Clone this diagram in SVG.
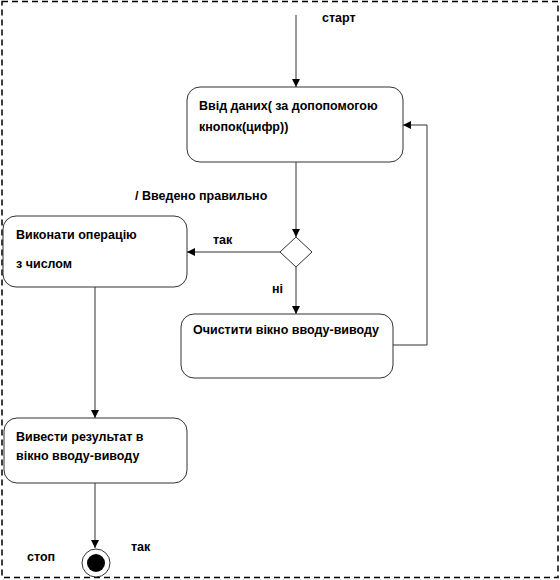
<svg xmlns="http://www.w3.org/2000/svg" width="560" height="580" viewBox="0 0 560 580">
<defs>
<marker id="arr" viewBox="0 0 10 10" refX="10" refY="5" markerWidth="8" markerHeight="8" markerUnits="userSpaceOnUse" orient="auto">
<path d="M0,0 L10,5 L0,10 z" fill="#000"/>
</marker>
<style>
.t{font-family:"Liberation Sans",Arial,sans-serif;font-size:12.5px;font-weight:bold;fill:#000}
.box{fill:#fff;stroke:#333;stroke-width:1}
.c{fill:none;stroke:#333;stroke-width:1;marker-end:url(#arr)}
</style>
</defs>
<rect width="560" height="580" fill="#fff"/>
<rect x="2" y="1.5" width="556" height="576" fill="none" stroke="#000" stroke-width="1.5" stroke-dasharray="6,4"/>
<g id="connectors">
<path class="c" d="M296,15 L296,87"/>
<path class="c" d="M296,162 L296,237"/>
<path class="c" d="M280,252 L187,252"/>
<path class="c" d="M296,267 L296,314"/>
<path class="c" d="M393,345 L427,345 L427,125 L403,125"/>
<path class="c" d="M95,287 L95,418"/>
<path class="c" d="M95,483 L95,548"/>
</g>
<g id="start-label"><text class="t" x="322" y="22">старт</text></g>
<g id="input">
<rect class="box" x="187" y="87" width="216" height="75" rx="13"/>
<text class="t" x="199" y="110">Ввід даних( за допопомогою</text>
<text class="t" x="199" y="131">кнопок(цифр))</text>
</g>
<g id="guard"><text class="t" x="135" y="200">/ Введено правильно</text></g>
<g id="decision">
<path d="M296,237 L312,252 L296,267 L280,252 z" fill="#fff" stroke="#333"/>
</g>
<g id="yes-label"><text class="t" x="213" y="244">так</text></g>
<g id="no-label"><text class="t" x="272" y="293">ні</text></g>
<g id="compute">
<rect class="box" x="3" y="216" width="184" height="71" rx="13"/>
<text class="t" x="16" y="239">Виконати операцію</text>
<text class="t" x="16" y="268">з числом</text>
</g>
<g id="clear">
<rect class="box" x="181" y="314" width="212" height="64" rx="13"/>
<text class="t" x="193" y="334">Очистити вікно вводу-виводу</text>
</g>
<g id="output">
<rect class="box" x="4" y="418" width="183" height="65" rx="13"/>
<text class="t" x="16" y="441">Вивести результат в</text>
<text class="t" x="16" y="460">вікно вводу-виводу</text>
</g>
<g id="final">
<circle cx="96" cy="563" r="14" fill="#fff" stroke="#333"/>
<circle cx="96" cy="563" r="9" fill="#000"/>
</g>
<g id="stop-label"><text class="t" x="27" y="561">стоп</text></g>
<g id="yes2-label"><text class="t" x="131" y="551">так</text></g>
</svg>
